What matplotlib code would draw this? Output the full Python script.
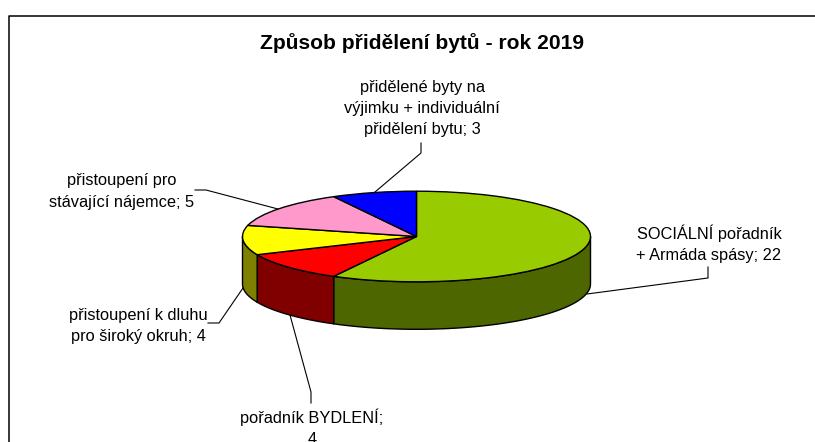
"""
Způsob přidělení bytů - rok 2019, koláč s 3D efektem
"""
import numpy as np
import matplotlib
matplotlib.use("Agg")
import matplotlib.pyplot as plt

plt.rcParams["font.family"] = ["Liberation Sans", "DejaVu Sans"]

# data
title = "Způsob přidělení bytů - rok 2019"
labels = [
    "SOCIÁLNÍ pořadník\n+ Armáda spásy; 22",
    "pořadník BYDLENÍ;\n4",
    "přistoupení k dluhu\npro široký okruh; 4",
    "přistoupení pro\nstávající nájemce; 5",
    "přidělené byty na\nvýjimku + individuální\npřidělení bytu; 3",
]
values = [22, 4, 4, 5, 3]
top_colors = ["#99CC00", "#FF0000", "#FFFF00", "#FF99CC", "#0000FF"]
side_colors = ["#4D6600", "#800000", "#808000", "#804D66", "#000080"]

# layout in pixels
W, H = 815, 442
cx, cy = 416.5, 236.5
rx, ry = 174.0, 45.3
depth = 47.5 / ry
label_pos = [(709, 243.5), (312, 428), (138, 326), (122, 191.5), (422, 108.5)]
leaders = [
    [(587, 294), (708, 278), (708, 267)],
    [(290, 315), (311, 392), (311, 403)],
    [(243, 288), (219, 323), (208, 323)],
    [(278, 209), (206, 190), (195, 190)],
    [(375, 192), (421, 153), (421, 143)],
]

fig = plt.figure(figsize=(W / 100, H / 100), dpi=100, facecolor="white")
ax = fig.add_axes([0, 0, 1, 1])

# top of the pie, clockwise from 12 o'clock
ax.pie(values, colors=top_colors, startangle=90, counterclock=False, radius=1,
       wedgeprops={"edgecolor": "black", "linewidth": 1.0, "zorder": 3})
ax.set_aspect("auto")
ax.set_xlim(-cx / rx, (W - cx) / rx)
ax.set_ylim((cy - H) / ry, cy / ry)
ax.axis("off")

# side wall, only the part of each slice facing the viewer
edges = 90 - 360 * np.cumsum([0] + values) / sum(values)
for i in range(len(values)):
    a1, a0 = edges[i], edges[i + 1]
    a_lo, a_hi = max(a0, -180), min(a1, 0)
    if a_hi <= a_lo:
        continue
    t = np.radians(np.linspace(a_lo, a_hi, 60))
    xs = np.concatenate([np.cos(t), np.cos(t[::-1])])
    ys = np.concatenate([np.sin(t), np.sin(t[::-1]) - depth])
    ax.fill(xs, ys, facecolor=side_colors[i], edgecolor="black", linewidth=1.0, zorder=2)

# overlay in pixel coordinates for frame, leaders and text
ov = fig.add_axes([0, 0, 1, 1], facecolor="none")
ov.set_xlim(0, W)
ov.set_ylim(H, 0)
ov.axis("off")

ov.plot([8.5, 8.5, W], [H, 15.5, 15.5], color="black", linewidth=1.1)

for pts in leaders:
    ov.plot([p[0] for p in pts], [p[1] for p in pts], color="black", linewidth=0.8)

for lab, (x, y) in zip(labels, label_pos):
    ov.text(x, y, lab, ha="center", va="center", fontsize=11.8,
            linespacing=1.52, color="black")

ov.text(422, 43, title, ha="center", va="center", fontsize=15.1, fontweight="bold")

fig.savefig("out.png", dpi=100)
